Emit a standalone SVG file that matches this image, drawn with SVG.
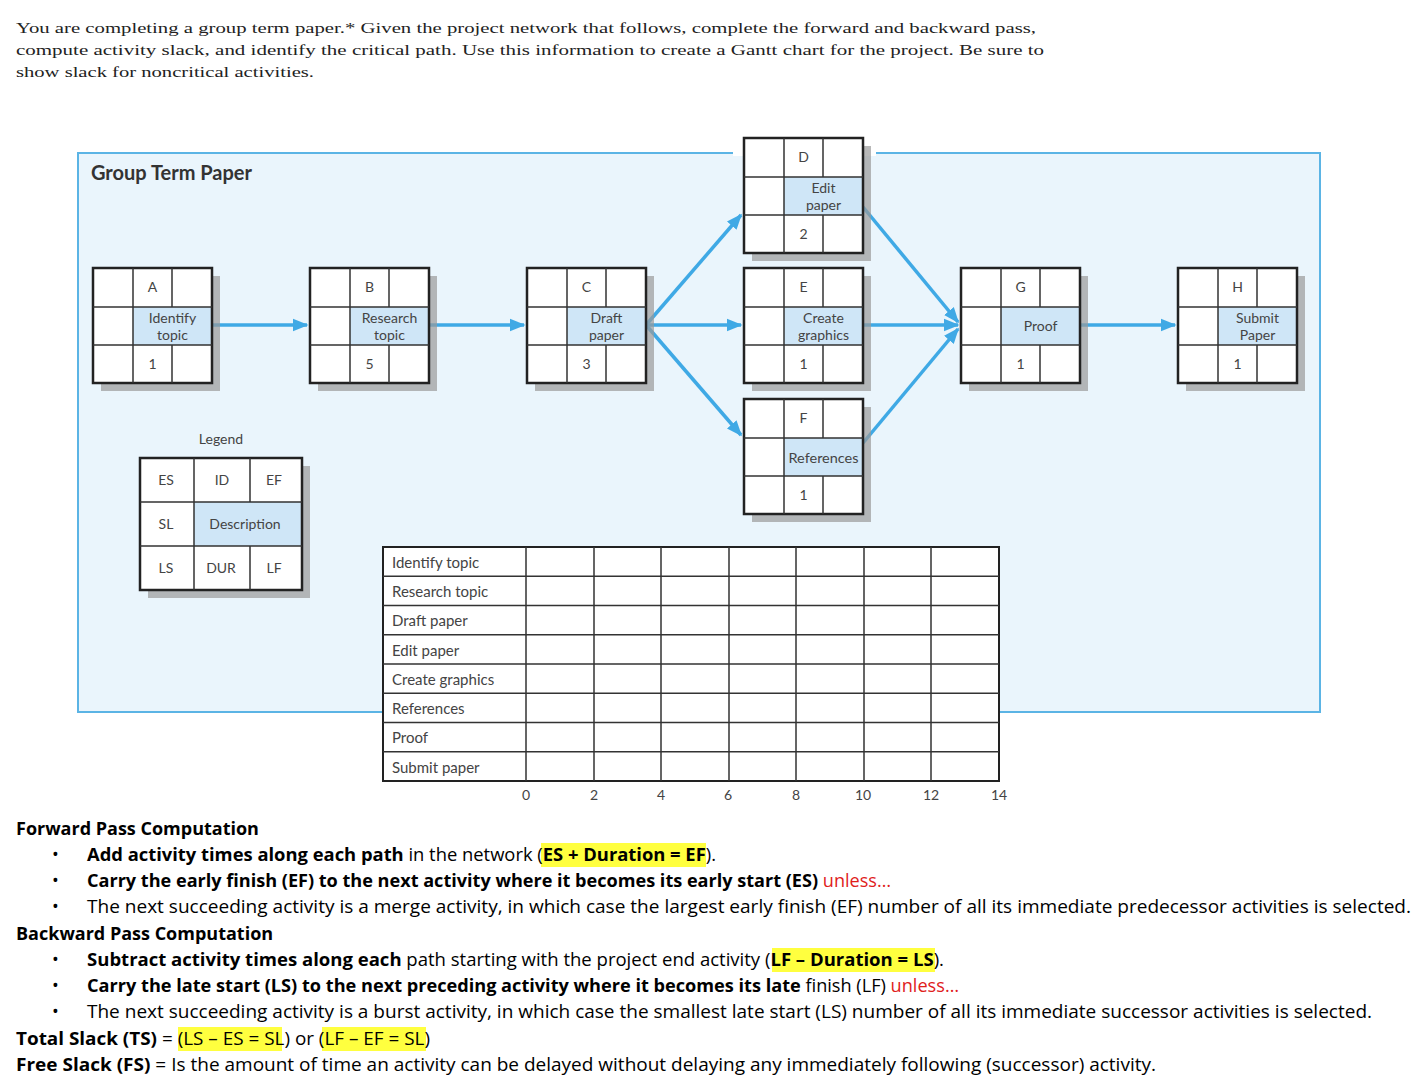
<svg xmlns="http://www.w3.org/2000/svg" width="1424" height="1090" viewBox="0 0 1424 1090">
<defs>
<marker id="ah" viewBox="0 0 10 10" refX="9" refY="5" markerWidth="4.5" markerHeight="4.5" orient="auto" markerUnits="strokeWidth"><path d="M0,1 L10,5 L0,9 z" fill="#3fa9e5"/></marker>
<g id="cell">
<rect x="8" y="8" width="119" height="115" fill="#9a9a9a" opacity="0.7"/>
<rect x="0" y="0" width="119" height="115" fill="#fff"/>
<rect x="40" y="39" width="79" height="38" fill="#cfe6f7"/>
<rect x="0" y="0" width="119" height="115" fill="none" stroke="#222" stroke-width="2.5"/>
<path d="M40 0V115M79 0V39M79 77V115M0 39H119M0 77H119" stroke="#333" stroke-width="1.5" fill="none"/>
</g>
</defs>
<style>
.n{font-family:Lato,"Open Sans",sans-serif;font-size:14px;fill:#444;text-anchor:middle}
.g{font-family:Lato,"Open Sans",sans-serif;font-size:15px;fill:#444}
.ax{font-family:Lato,"Open Sans",sans-serif;font-size:14px;fill:#444;text-anchor:middle}
.hd{font-family:"Liberation Serif",serif;font-size:15.5px;fill:#222}
.b{font-family:"Open Sans","Liberation Sans",sans-serif;font-size:18px;fill:#000}
.bd{font-weight:bold}
.r{fill:#e0201b}
.conn line{stroke:#3fa9e5;stroke-width:3.5;marker-end:url(#ah)}
</style>
<rect width="1424" height="1090" fill="#fff"/>
<text class="hd" x="16" y="33" textLength="1020" lengthAdjust="spacingAndGlyphs">You are completing a group term paper.* Given the project network that follows, complete the forward and backward pass,</text>
<text class="hd" x="16" y="55" textLength="1028" lengthAdjust="spacingAndGlyphs">compute activity slack, and identify the critical path. Use this information to create a Gantt chart for the project. Be sure to</text>
<text class="hd" x="16" y="77" textLength="298" lengthAdjust="spacingAndGlyphs">show slack for noncritical activities.</text>

<rect x="78" y="153" width="1242" height="559" fill="#eaf5fc" stroke="#5bb4e5" stroke-width="2"/>
<rect x="733" y="150" width="143" height="6" fill="#fff"/>
<text x="91" y="180" font-family="Lato,'Open Sans',sans-serif" font-size="20" font-weight="bold" fill="#333">Group Term Paper</text>

<g class="conn" id="connectors">
<line x1="212" y1="325" x2="307" y2="325"/>
<line x1="429" y1="325" x2="524" y2="325"/>
<line x1="646" y1="325" x2="741" y2="215"/>
<line x1="646" y1="325" x2="741" y2="325"/>
<line x1="646" y1="325" x2="741" y2="435"/>
<line x1="863" y1="207" x2="958" y2="322"/>
<line x1="863" y1="325" x2="958" y2="325"/>
<line x1="863" y1="443" x2="958" y2="329"/>
<line x1="1080" y1="325" x2="1175" y2="325"/>
</g>

<g id="node-A" transform="translate(93,268)"><use href="#cell"/><text class="n" x="59.5" y="24">A</text><text class="n" x="79.5" y="55">Identify</text><text class="n" x="79.5" y="72">topic</text><text class="n" x="59.5" y="101">1</text></g>
<g id="node-B" transform="translate(310,268)"><use href="#cell"/><text class="n" x="59.5" y="24">B</text><text class="n" x="79.5" y="55">Research</text><text class="n" x="79.5" y="72">topic</text><text class="n" x="59.5" y="101">5</text></g>
<g id="node-C" transform="translate(527,268)"><use href="#cell"/><text class="n" x="59.5" y="24">C</text><text class="n" x="79.5" y="55">Draft</text><text class="n" x="79.5" y="72">paper</text><text class="n" x="59.5" y="101">3</text></g>
<g id="node-D" transform="translate(744,138)"><use href="#cell"/><text class="n" x="59.5" y="24">D</text><text class="n" x="79.5" y="55">Edit</text><text class="n" x="79.5" y="72">paper</text><text class="n" x="59.5" y="101">2</text></g>
<g id="node-E" transform="translate(744,268)"><use href="#cell"/><text class="n" x="59.5" y="24">E</text><text class="n" x="79.5" y="55">Create</text><text class="n" x="79.5" y="72">graphics</text><text class="n" x="59.5" y="101">1</text></g>
<g id="node-F" transform="translate(744,399)"><use href="#cell"/><text class="n" x="59.5" y="24">F</text><text class="n" x="79.5" y="64" font-size="13" textLength="70" lengthAdjust="spacingAndGlyphs">References</text><text class="n" x="59.5" y="101">1</text></g>
<g id="node-G" transform="translate(961,268)"><use href="#cell"/><text class="n" x="59.5" y="24">G</text><text class="n" x="79.5" y="63">Proof</text><text class="n" x="59.5" y="101">1</text></g>
<g id="node-H" transform="translate(1178,268)"><use href="#cell"/><text class="n" x="59.5" y="24">H</text><text class="n" x="79.5" y="55">Submit</text><text class="n" x="79.5" y="72">Paper</text><text class="n" x="59.5" y="101">1</text></g>

<g id="legend">
<text class="n" x="221" y="444">Legend</text>
<rect x="148" y="466" width="162" height="132" fill="#9a9a9a" opacity="0.7"/>
<rect x="140" y="458" width="162" height="132" fill="#fff"/>
<rect x="194" y="502" width="108" height="44" fill="#cfe6f7"/>
<rect x="140" y="458" width="162" height="132" fill="none" stroke="#222" stroke-width="2.5"/>
<path d="M194 458V590M250 458V502M250 546V590M140 502H302M140 546H302" stroke="#333" stroke-width="1.5"/>
<text class="n" x="166" y="485">ES</text><text class="n" x="222" y="485">ID</text><text class="n" x="274" y="485">EF</text>
<text class="n" x="166" y="529">SL</text><text class="n" x="245" y="529">Description</text>
<text class="n" x="166" y="573">LS</text><text class="n" x="221" y="573">DUR</text><text class="n" x="274" y="573">LF</text>
</g>

<g id="gantt">
<rect x="383" y="547" width="616" height="234" fill="#fff" stroke="#222" stroke-width="2"/>
<path d="M526 547V781M594 547V781M661 547V781M729 547V781M796 547V781M864 547V781M931 547V781M383 576.2H999M383 605.5H999M383 634.7H999M383 664H999M383 693.2H999M383 722.5H999M383 751.7H999" stroke="#333" stroke-width="1.5"/>
<text class="g" x="392" y="568">Identify topic</text>
<text class="g" x="392" y="597">Research topic</text>
<text class="g" x="392" y="626">Draft paper</text>
<text class="g" x="392" y="656">Edit paper</text>
<text class="g" x="392" y="685">Create graphics</text>
<text class="g" x="392" y="714">References</text>
<text class="g" x="392" y="743">Proof</text>
<text class="g" x="392" y="773">Submit paper</text>
<text class="ax" x="526" y="800">0</text><text class="ax" x="594" y="800">2</text><text class="ax" x="661" y="800">4</text><text class="ax" x="728" y="800">6</text><text class="ax" x="796" y="800">8</text><text class="ax" x="863" y="800">10</text><text class="ax" x="931" y="800">12</text><text class="ax" x="999" y="800">14</text>
</g>

<g id="notes">
<rect x="541" y="843" width="165" height="24" fill="#ffff3f"/>
<rect x="772" y="948" width="163" height="24" fill="#ffff3f"/>
<rect x="178" y="1027" width="104" height="24" fill="#ffff3f"/>
<rect x="322" y="1027" width="104" height="24" fill="#ffff3f"/>
<text class="b bd" x="16" y="835">Forward Pass Computation</text>
<text class="b" x="52" y="861">•</text>
<text class="b" x="87" y="861" textLength="629" lengthAdjust="spacingAndGlyphs"><tspan class="bd">Add activity times along each path</tspan> in the network (<tspan class="bd">ES + Duration = EF</tspan>).</text>
<text class="b" x="52" y="887">•</text>
<text class="b" x="87" y="887" textLength="804" lengthAdjust="spacingAndGlyphs"><tspan class="bd">Carry the early finish (EF) to the next activity where it becomes its early start (ES)</tspan> <tspan class="r">unless…</tspan></text>
<text class="b" x="52" y="913">•</text>
<text class="b" x="87" y="913" textLength="1324" lengthAdjust="spacingAndGlyphs">The next succeeding activity is a merge activity, in which case the largest early finish (EF) number of all its immediate predecessor activities is selected.</text>
<text class="b bd" x="16" y="940">Backward Pass Computation</text>
<text class="b" x="52" y="966">•</text>
<text class="b" x="87" y="966" textLength="857" lengthAdjust="spacingAndGlyphs"><tspan class="bd">Subtract activity times along each</tspan> path starting with the project end activity (<tspan class="bd">LF – Duration = LS</tspan>).</text>
<text class="b" x="52" y="992">•</text>
<text class="b" x="87" y="992" textLength="872" lengthAdjust="spacingAndGlyphs"><tspan class="bd">Carry the late start (LS) to the next preceding activity where it becomes its late</tspan> finish (LF) <tspan class="r">unless…</tspan></text>
<text class="b" x="52" y="1018">•</text>
<text class="b" x="87" y="1018" textLength="1285" lengthAdjust="spacingAndGlyphs">The next succeeding activity is a burst activity, in which case the smallest late start (LS) number of all its immediate successor activities is selected.</text>
<text class="b" x="16" y="1045" textLength="414" lengthAdjust="spacingAndGlyphs"><tspan class="bd">Total Slack (TS)</tspan> = (LS – ES = SL) or (LF – EF = SL)</text>
<text class="b" x="16" y="1071" textLength="1140" lengthAdjust="spacingAndGlyphs"><tspan class="bd">Free Slack (FS)</tspan> = Is the amount of time an activity can be delayed without delaying any immediately following (successor) activity.</text>
</g>
</svg>
